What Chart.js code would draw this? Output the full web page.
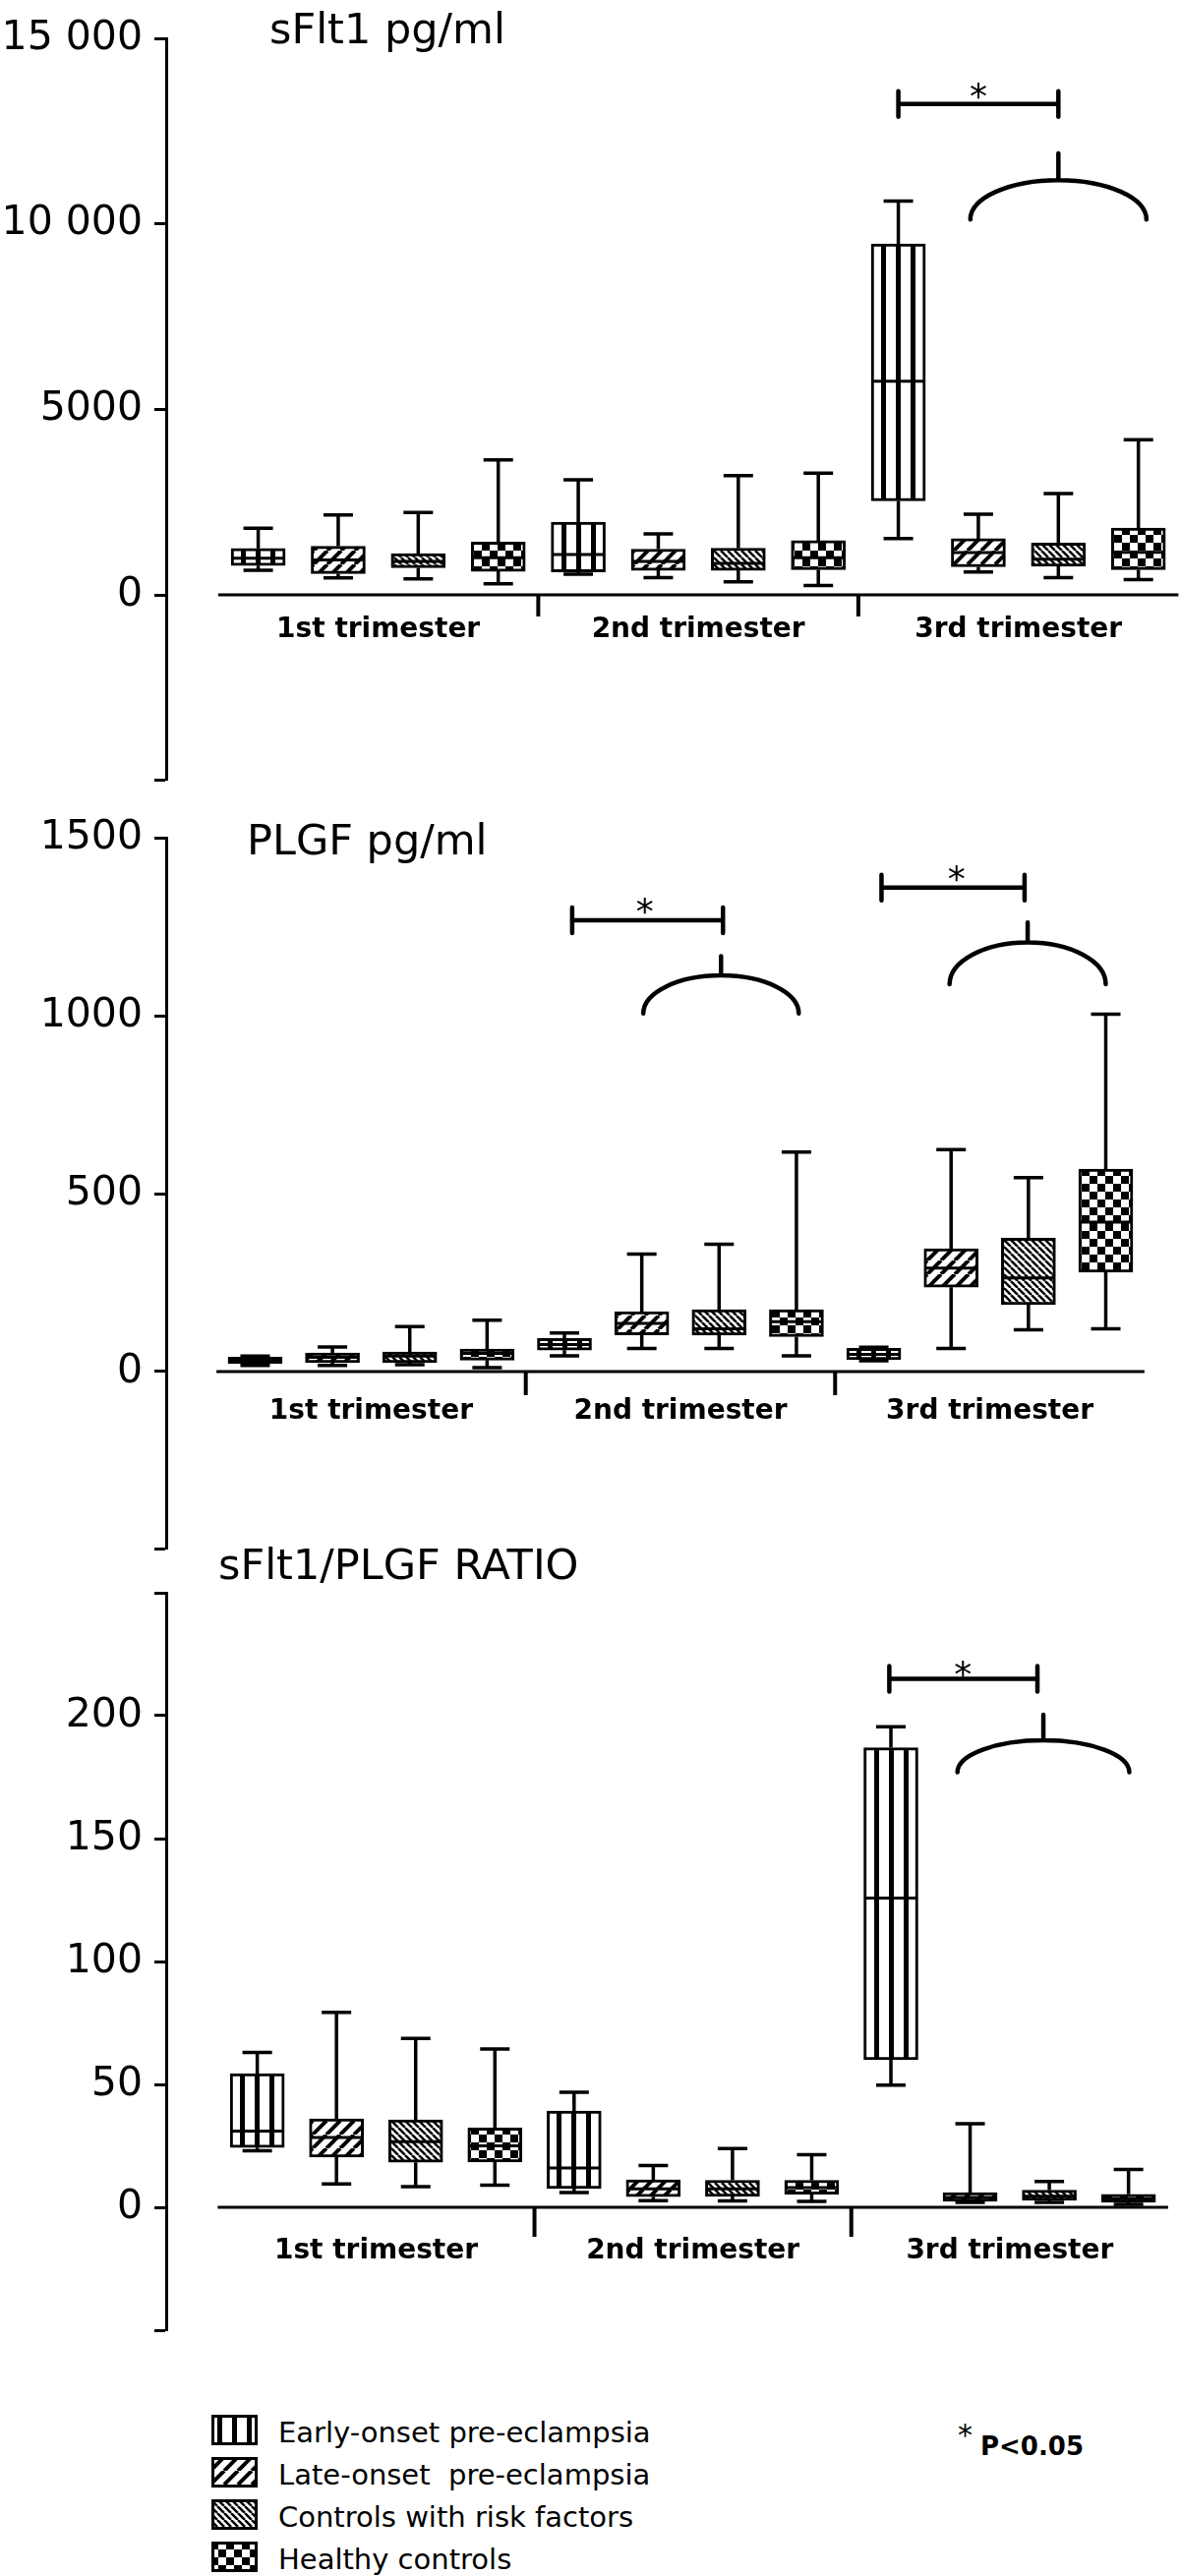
<!DOCTYPE html>
<html>
<head>
<meta charset="utf-8">
<title>sFlt1, PLGF and sFlt1/PLGF ratio by trimester</title>
<script src="https://cdn.jsdelivr.net/npm/chart.js@4.4.1/dist/chart.umd.min.js"></script>
<style>
  html, body { margin: 0; padding: 0; background: #fff; }
  #page { position: relative; width: 1200px; height: 2620px; overflow: hidden; font-family: "DejaVu Sans", sans-serif; color: #000; }
  #page > canvas { position: absolute; left: 0; }
  .swatch { position: absolute; left: 215px; }
  .legtext { position: absolute; left: 283px; font-size: 29px; line-height: 1; white-space: pre; }
  #pstar { position: absolute; left: 974px; top: 2462px; font-size: 30px; line-height: 1; }
  #ptext { position: absolute; left: 997px; top: 2475px; font-size: 26px; line-height: 1; font-weight: bold; }
</style>
</head>
<body>
<div id="page">
  <canvas id="sflt1Chart" width="1200" height="840" style="top:0px;width:1200px;height:840px"></canvas>
  <canvas id="plgfChart" width="1200" height="800" style="top:820px;width:1200px;height:800px"></canvas>
  <canvas id="ratioChart" width="1200" height="860" style="top:1555px;width:1200px;height:860px"></canvas>
  <div id="legend"></div>
  <span id="pstar">*</span><span id="ptext">P&lt;0.05</span>
</div>
<script>
// Groupes (légende) et trimestres
const groups = [
  "Early-onset pre-eclampsia",
  "Late-onset  pre-eclampsia",
  "Controls with risk factors",
  "Healthy controls",
];
const trimesters = ["1st trimester", "2nd trimester", "3rd trimester"];

// Ordre des boîtes : pour chaque trimestre, early, late, controls, healthy
// sFlt1 pg/ml
const sflt1Min = [660, 458, 431, 299, 554, 466, 352, 255, 1518, 616, 466, 414];
const sflt1Q1 = [792, 572, 731, 634, 616, 660, 660, 678, 2534, 757, 774, 678];
const sflt1Median = [990, 940, 900, 1000, 1085, 900, 850, 1000, 5761, 1140, 960, 1150];
const sflt1Q3 = [1250, 1311, 1109, 1426, 1962, 1232, 1259, 1461, 9457, 1513, 1399, 1803];
const sflt1Max = [1795, 2156, 2218, 3635, 3098, 1645, 3212, 3282, 10613, 2173, 2728, 4180];
const sflt1TickLabels = [0, 5000, 10000, 15000];

// PLGF pg/ml
const plgfMin = [17, 17, 19, 11, 44, 65, 65, 44, 30, 65, 117, 120];
const plgfQ1 = [23, 25, 25, 32, 60, 103, 102, 98, 33, 237, 188, 279];
const plgfMedian = [30, 40, 43, 51, 76, 135, 120, 140, 48, 291, 263, 420];
const plgfQ3 = [40, 52, 55, 63, 93, 168, 174, 174, 65, 345, 375, 569];
const plgfMax = [43, 69, 126, 144, 108, 330, 358, 617, 68, 624, 545, 1005];
const plgfTickLabels = [0, 500, 1000, 1500];

// sFlt1/PLGF ratio
const ratioMin = [23, 9.5, 8.4, 9, 6, 2.7, 2.6, 2.4, 49.7, 2, 2, 1.2];
const ratioQ1 = [24.3, 20.4, 18.3, 18.4, 7.6, 4.3, 4.4, 5.3, 60, 2.4, 2.8, 2];
const ratioMedian = [31, 28.4, 26.7, 25, 16, 7.5, 7.5, 8, 125.8, 4, 4.5, 3.5];
const ratioQ3 = [54.4, 36, 35.6, 32.3, 39.2, 11.2, 11, 11, 187, 6, 7, 5.3];
const ratioMax = [63, 79.3, 68.7, 64.4, 46.8, 17, 23.9, 21.4, 195.5, 34, 10.5, 15.4];
const ratioTickLabels = [0, 50, 100, 150, 200];

const BOX_W = 55; // largeur des boîtes
const CAP_W = 30; // largeur des moustaches

// Motifs de remplissage (un par groupe)
const patternKinds = ["vertical", "slash", "backslash", "checker"];

function makeTile(kind) {
  const c = document.createElement("canvas");
  const g = c.getContext("2d");
  const size = { vertical: 15, slash: 14, backslash: 7, checker: 16 }[kind];
  c.width = size;
  c.height = size;
  g.fillStyle = "#fff";
  g.fillRect(0, 0, size, size);
  g.fillStyle = "#000";
  g.strokeStyle = "#000";
  if (kind === "vertical") {
    g.fillRect(6, 0, 5, size);
  } else if (kind === "slash") {
    g.lineWidth = 4;
    g.beginPath();
    [-size, 0, size].forEach((o) => {
      g.moveTo(o, size);
      g.lineTo(o + size, 0);
    });
    g.stroke();
  } else if (kind === "backslash") {
    g.lineWidth = 2.5;
    g.beginPath();
    [-size, 0, size].forEach((o) => {
      g.moveTo(o, 0);
      g.lineTo(o + size, size);
    });
    g.stroke();
  } else {
    g.fillRect(0, 0, 8, 8);
    g.fillRect(8, 8, 8, 8);
  }
  return c;
}
const tiles = {};
patternKinds.forEach((k) => (tiles[k] = makeTile(k)));

function patternFor(ctx, kind, cx) {
  const pat = ctx.createPattern(tiles[kind], "repeat");
  const tx = kind === "vertical" ? cx - 8.5 : cx - BOX_W / 2 + 3;
  pat.setTransform(new DOMMatrix().translate(Math.round(tx), 0));
  return pat;
}

function formatTick(v) {
  if (v >= 10000) return String(v).replace(/\B(?=(\d{3})+(?!\d))/g, " ");
  return String(v);
}

// Dessin des moustaches, médianes, axe des x, titres et annotations
function extrasPlugin(p) {
  return {
    id: "extras",
    afterDatasetsDraw(chart) {
      const ctx = chart.ctx;
      const xs = chart.scales.x;
      const ys = chart.scales.y;
      ctx.save();
      ctx.strokeStyle = "#000";
      ctx.fillStyle = "#000";

      // moustaches + médianes
      p.min.forEach((_, i) => {
        const x = xs.getPixelForValue(i);
        const yMin = ys.getPixelForValue(p.min[i]);
        const yQ1 = ys.getPixelForValue(p.q1[i]);
        const yQ3 = ys.getPixelForValue(p.q3[i]);
        const yMax = ys.getPixelForValue(p.max[i]);
        ctx.lineWidth = 3.5;
        ctx.beginPath();
        ctx.moveTo(x, yQ3);
        ctx.lineTo(x, yMax);
        ctx.moveTo(x - CAP_W / 2, yMax);
        ctx.lineTo(x + CAP_W / 2, yMax);
        ctx.moveTo(x, yQ1);
        ctx.lineTo(x, yMin);
        ctx.moveTo(x - CAP_W / 2, yMin);
        ctx.lineTo(x + CAP_W / 2, yMin);
        ctx.stroke();
        const yMed = ys.getPixelForValue(p.median[i]);
        ctx.lineWidth = 3;
        ctx.beginPath();
        ctx.moveTo(x - BOX_W / 2 + 1.5, yMed);
        ctx.lineTo(x + BOX_W / 2 - 1.5, yMed);
        ctx.stroke();
      });

      // axe des x à zéro, séparateurs et libellés des trimestres
      const y0 = ys.getPixelForValue(0);
      ctx.lineWidth = 3;
      ctx.beginPath();
      ctx.moveTo(xs.getPixelForValue(-0.5), y0);
      ctx.lineTo(xs.getPixelForValue(11.5), y0);
      ctx.stroke();
      ctx.lineWidth = 4;
      ctx.beginPath();
      [3.5, 7.5].forEach((v) => {
        const x = xs.getPixelForValue(v);
        ctx.moveTo(x, y0);
        ctx.lineTo(x, y0 + p.sepLen);
      });
      ctx.stroke();
      ctx.font = 'bold 28px "DejaVu Sans"';
      ctx.textAlign = "center";
      ctx.textBaseline = "alphabetic";
      trimesters.forEach((t, k) => {
        ctx.fillText(t, xs.getPixelForValue(4 * k + 1.5), y0 + p.labelGap);
      });

      // titre du panneau
      ctx.font = '43px "DejaVu Sans"';
      ctx.textAlign = "left";
      ctx.fillText(p.title, p.titleX, p.titleY);

      // crochets de significativité
      ctx.lineWidth = 4.5;
      ctx.lineCap = "round";
      p.brackets.forEach((b) => {
        const xa = xs.getPixelForValue(b.x1);
        const xb = xs.getPixelForValue(b.x2);
        const y = ys.getPixelForValue(b.y);
        ctx.beginPath();
        ctx.moveTo(xa, y);
        ctx.lineTo(xb, y);
        ctx.moveTo(xa, y - 13);
        ctx.lineTo(xa, y + 13);
        ctx.moveTo(xb, y - 13);
        ctx.lineTo(xb, y + 13);
        ctx.stroke();
        ctx.font = '36px "DejaVu Sans"';
        ctx.textAlign = "center";
        ctx.fillText("*", xs.getPixelForValue(b.starX), ys.getPixelForValue(b.starY) + 21);
      });
      // arcs regroupant les contrôles
      p.arcs.forEach((a) => {
        const xa = xs.getPixelForValue(a.x1);
        const xb = xs.getPixelForValue(a.x2);
        const cx = (xa + xb) / 2;
        const cy = ys.getPixelForValue(a.yEnd);
        const top = ys.getPixelForValue(a.yTop);
        ctx.beginPath();
        ctx.ellipse(cx, cy, (xb - xa) / 2, cy - top, 0, Math.PI, 2 * Math.PI);
        ctx.moveTo(cx, top);
        ctx.lineTo(cx, ys.getPixelForValue(a.yTick));
        ctx.stroke();
      });
      ctx.restore();
    },
  };
}

function buildPanel(canvasId, p) {
  const ctx = document.getElementById(canvasId).getContext("2d");
  const datasets = groups.map((name, g) => ({
    label: name,
    data: trimesters.map((_, t) => {
      const i = 4 * t + g;
      return { x: i, y: [p.q1[i], p.q3[i]] };
    }),
    backgroundColor: (c) => {
      if (c.type !== "data") return patternFor(c.chart.ctx, patternKinds[g], 0);
      return patternFor(c.chart.ctx, patternKinds[g], c.chart.scales.x.getPixelForValue(c.parsed.x));
    },
    borderColor: "#000",
    borderWidth: 3,
    borderSkipped: false,
    grouped: false,
    maxBarThickness: BOX_W,
    barPercentage: 1,
    categoryPercentage: 1,
  }));

  new Chart(ctx, {
    type: "bar",
    data: { datasets },
    options: {
      responsive: false,
      animation: false,
      devicePixelRatio: 1,
      events: [],
      layout: { padding: { left: 0, right: 0, top: p.padTop, bottom: p.padBottom } },
      plugins: { legend: { display: false }, tooltip: { enabled: false } },
      scales: {
        x: { type: "linear", display: false, offset: false, min: -1.15, max: p.xMax },
        y: {
          type: "linear",
          position: "left",
          min: p.yMin,
          max: p.yMax,
          afterFit: (scale) => {
            scale.width = 169;
          },
          border: { display: true, color: "#000", width: 3 },
          grid: {
            drawOnChartArea: false,
            drawTicks: true,
            tickLength: 12,
            tickWidth: 3,
            tickColor: "#000",
          },
          ticks: {
            stepSize: p.yStep,
            autoSkip: false,
            padding: 12,
            color: "#000",
            font: { family: "DejaVu Sans", size: 41, lineHeight: 1 },
            callback: (v) => (p.tickLabels.includes(v) ? formatTick(v) : ""),
          },
        },
      },
    },
    plugins: [extrasPlugin(p)],
  });
}

buildPanel("sflt1Chart", {
  title: "sFlt1 pg/ml", titleX: 274, titleY: 44,
  min: sflt1Min, q1: sflt1Q1, median: sflt1Median, q3: sflt1Q3, max: sflt1Max,
  tickLabels: sflt1TickLabels,
  yMin: -5000, yMax: 15000, yStep: 5000, xMax: 11.52,
  padTop: 39, padBottom: 46.3, labelGap: 43, sepLen: 22,
  brackets: [{ x1: 8, x2: 10, y: 13230, starX: 9, starY: 13680 }],
  arcs: [{ x1: 8.9, x2: 11.1, yEnd: 10120, yTop: 11180, yTick: 11900 }],
});

buildPanel("plgfChart", {
  title: "PLGF pg/ml", titleX: 251, titleY: 49,
  min: plgfMin, q1: plgfQ1, median: plgfMedian, q3: plgfQ3, max: plgfMax,
  tickLabels: plgfTickLabels,
  yMin: -500, yMax: 1500, yStep: 500, xMax: 11.96,
  padTop: 27, padBottom: 44.3, labelGap: 48.5, sepLen: 24,
  brackets: [
    { x1: 4.1, x2: 6.05, y: 1269, starX: 5.04, starY: 1318 },
    { x1: 8.1, x2: 9.95, y: 1361, starX: 9.07, starY: 1411 },
  ],
  arcs: [
    { x1: 5.02, x2: 7.03, yEnd: 1007, yTop: 1114, yTick: 1168 },
    { x1: 8.98, x2: 11.0, yEnd: 1089, yTop: 1207, yTick: 1263 },
  ],
});

buildPanel("ratioChart", {
  title: "sFlt1/PLGF RATIO", titleX: 222, titleY: 51,
  min: ratioMin, q1: ratioQ1, median: ratioMedian, q3: ratioQ3, max: ratioMax,
  tickLabels: ratioTickLabels,
  yMin: -50, yMax: 250, yStep: 50, xMax: 11.65,
  padTop: 65, padBottom: 45, labelGap: 52, sepLen: 30,
  brackets: [{ x1: 7.98, x2: 9.85, y: 215, starX: 8.91, starY: 220.4 }],
  arcs: [{ x1: 8.84, x2: 11.01, yEnd: 177, yTop: 190, yTick: 200.4 }],
});

// Légende HTML avec les mêmes motifs
const legend = document.getElementById("legend");
groups.forEach((name, g) => {
  const sw = document.createElement("canvas");
  sw.width = 47;
  sw.height = 31;
  sw.className = "swatch";
  sw.style.top = 2456 + 43 * g + "px";
  const sctx = sw.getContext("2d");
  sctx.fillStyle = patternFor(sctx, patternKinds[g], 23.5);
  sctx.fillRect(0, 0, 47, 31);
  sctx.lineWidth = 3;
  sctx.strokeStyle = "#000";
  sctx.strokeRect(1.5, 1.5, 44, 28);
  legend.appendChild(sw);
  const txt = document.createElement("span");
  txt.className = "legtext";
  txt.style.top = 2460 + 43 * g + "px";
  txt.textContent = name;
  legend.appendChild(txt);
});
</script>
</body>
</html>
